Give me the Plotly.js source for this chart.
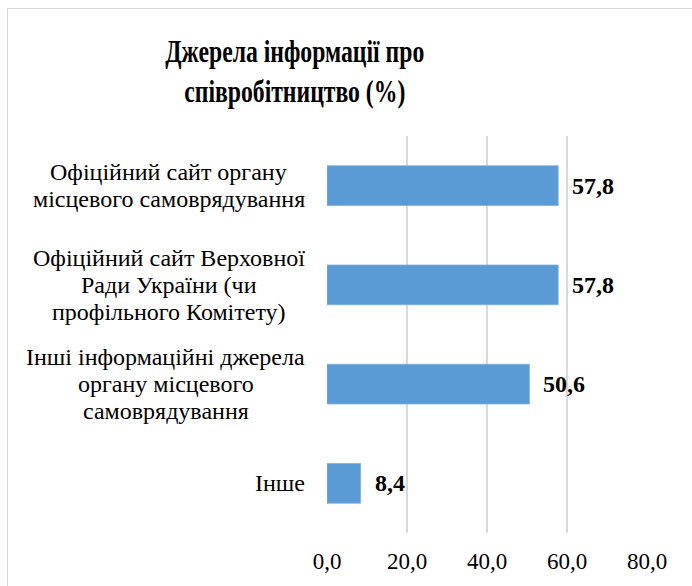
<!DOCTYPE html>
<html>
<head>
<meta charset="utf-8">
<script src="https://cdn.plot.ly/plotly-3.0.1.min.js"></script>
<style>
  html, body { margin: 0; padding: 0; background: #fff; }
  #wrap { position: relative; width: 692px; height: 586px; overflow: hidden; }
  #chart { width: 692px; height: 586px; }
  #chart .gtitle { transform-box: fill-box; transform-origin: center; transform: scaleX(0.765); }
  #frame { position: absolute; left: 7px; top: 8px; width: 720px; height: 620px;
           border: 1.5px solid #d9d9d9; pointer-events: none; box-sizing: border-box; }
</style>
</head>
<body>
<div id="wrap">
  <div id="chart"></div>
  <div id="frame"></div>
</div>
<script>
const categories = [
  "Офіційний сайт органу<br>місцевого самоврядування",
  "Офіційний сайт Верховної<br>Ради України (чи<br>профільного Комітету)",
  "Інші інформаційні джерела<br>органу місцевого<br>самоврядування",
  "Інше"
];
const values = [57.8, 57.8, 50.6, 8.4];
const tickValues = [0, 20, 40, 60, 80];
const tickLabels = ["0,0", "20,0", "40,0", "60,0", "80,0"];
const valueLabels = ["57,8", "57,8", "50,6", "8,4"];

const serif = "Liberation Serif";
const labelSize = 24;
const lineH = 26.7;
const plotLeft = 327;
const labelRight = 305;

const ctx = document.createElement("canvas").getContext("2d");
ctx.font = labelSize + "px 'Liberation Serif'";

const trace = {
  type: "bar",
  orientation: "h",
  x: values,
  y: categories,
  marker: { color: "#5B9BD5", line: { color: "#7fb0de", width: 0.8 } },
  hoverinfo: "none"
};

const annotations = [];
categories.forEach((c, i) => {
  const lines = c.split("<br>");
  const w = Math.max(...lines.map(l => ctx.measureText(l).width));
  const cx = labelRight - w / 2 - plotLeft;
  lines.forEach((l, j) => {
    annotations.push({
      xref: "paper", yref: "y", x: 0, y: c,
      xanchor: "center", yanchor: "middle",
      xshift: cx, yshift: ((lines.length - 1) / 2 - j) * lineH,
      showarrow: false, text: l,
      font: { family: serif, size: labelSize, color: "#000" }
    });
  });
  annotations.push({
    xref: "x", yref: "y", x: values[i], y: c,
    xanchor: "left", yanchor: "middle", xshift: 12,
    showarrow: false, text: "<b>" + valueLabels[i] + "</b>",
    font: { family: serif, size: 24, color: "#000" }
  });
});

const layout = {
  width: 692, height: 586,
  font: { family: serif, color: "#000" },
  margin: { l: plotLeft, r: 45, t: 136, b: 53 },
  paper_bgcolor: "#fff", plot_bgcolor: "#fff",
  showlegend: false,
  bargap: 0.6,
  title: {
    text: "<b>Джерела інформації про<br>співробітництво (%)</b>",
    font: { family: serif, size: 31, color: "#000" },
    xref: "container", x: 0.426, xanchor: "center",
    yref: "container", y: 0.894, yanchor: "top"
  },
  xaxis: {
    range: [0, 80],
    tickvals: tickValues, ticktext: tickLabels,
    showgrid: true, gridcolor: "#d9d9d9", gridwidth: 1.5,
    zeroline: false, showline: false, ticks: "",
    ticklabelstandoff: 12,
    tickfont: { family: serif, size: 23, color: "#000" },
    fixedrange: true
  },
  yaxis: {
    autorange: "reversed",
    showticklabels: false, showgrid: false, zeroline: false, showline: false, ticks: "",
    fixedrange: true
  },
  annotations: annotations
};

Plotly.newPlot("chart", [trace], layout, { displayModeBar: false, staticPlot: true });
</script>
</body>
</html>
